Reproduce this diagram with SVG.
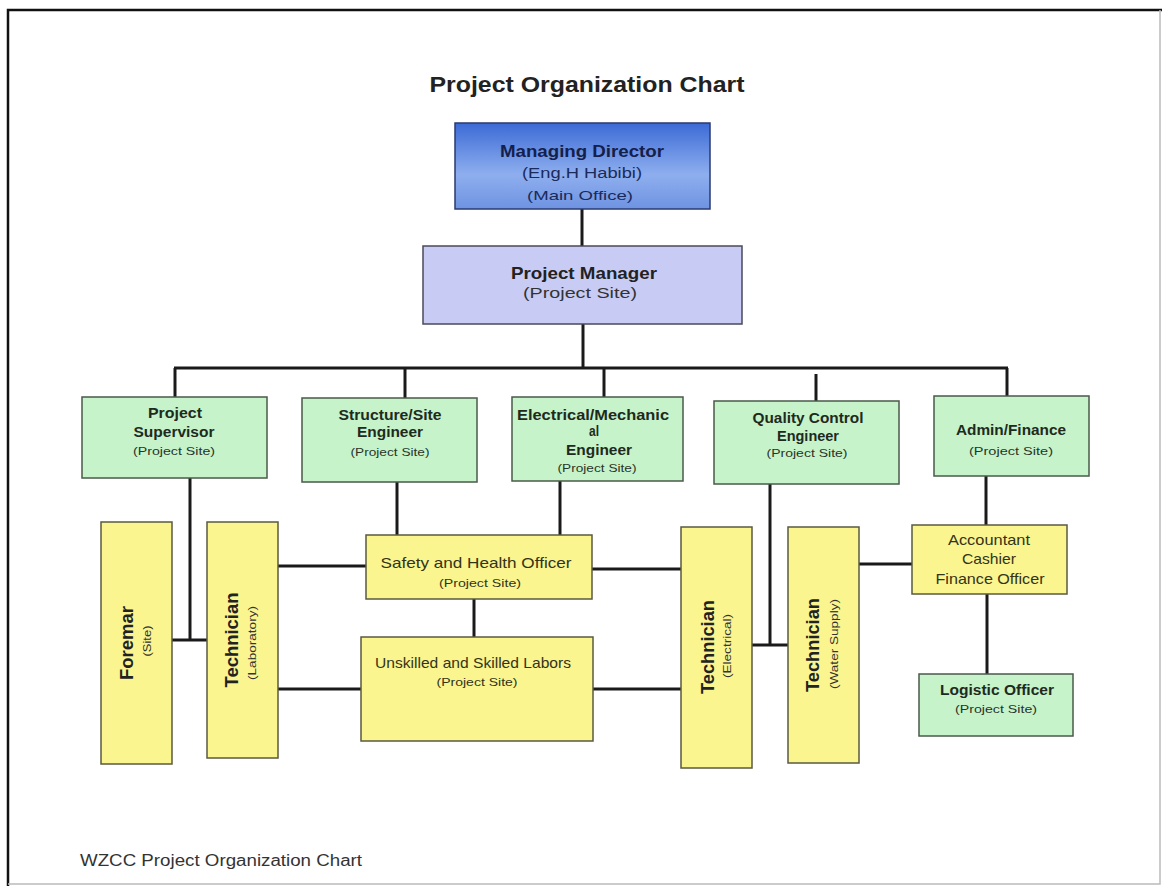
<svg xmlns="http://www.w3.org/2000/svg" width="1162" height="886" viewBox="0 0 1162 886">
<defs>
<linearGradient id="blue" x1="0" y1="0" x2="0" y2="1">
<stop offset="0" stop-color="#3c6bd6"/>
<stop offset="0.6" stop-color="#8eaeee"/>
<stop offset="1" stop-color="#6f93e2"/>
</linearGradient>
<style>
text{font-family:"Liberation Sans",Arial,sans-serif;text-anchor:middle}
.box{stroke-width:1.5}
.green{fill:#c6f3c9;stroke:#4a5a4a}
.yellow{fill:#faf58f;stroke:#5a5a40}
.b{font-weight:bold;font-size:14px;fill:#1e2a1e}
.s{font-size:11px;fill:#2a332a}
.y{font-size:15px;fill:#333318}
.ys{font-size:11px;fill:#333318}
.vb{font-weight:bold;font-size:17.5px;fill:#222}
.vs{font-size:10.5px;fill:#333}
.conn{stroke:#1a1a1a;stroke-width:3;fill:none}
</style>
</defs>
<rect x="0" y="0" width="1162" height="886" fill="#ffffff"/>
<path d="M8 886 V10 H1162" fill="none" stroke="#111" stroke-width="2.5"/>
<path d="M1160 10 V884 H8" fill="none" stroke="#bbb" stroke-width="1.5"/>
<text x="587" y="92" textLength="315" lengthAdjust="spacingAndGlyphs" style="font-size:22px;font-weight:bold;fill:#222">Project Organization Chart</text>

<g id="connectors" class="conn">
<line x1="582" y1="209" x2="582" y2="246"/>
<line x1="583" y1="324" x2="583" y2="368"/>
<line x1="174" y1="368" x2="1008" y2="368"/>
<line x1="175" y1="368" x2="175" y2="397"/>
<line x1="405" y1="368" x2="405" y2="398"/>
<line x1="604" y1="368" x2="604" y2="397"/>
<line x1="816" y1="374" x2="816" y2="401"/>
<line x1="1007" y1="368" x2="1007" y2="396"/>
<polyline points="190,478 190,640"/>
<line x1="172" y1="640" x2="207" y2="640"/>
<line x1="397" y1="482" x2="397" y2="535"/>
<line x1="560" y1="481" x2="560" y2="535"/>
<line x1="278" y1="566" x2="366" y2="566"/>
<line x1="592" y1="569" x2="681" y2="569"/>
<line x1="474" y1="599" x2="474" y2="637"/>
<line x1="278" y1="689" x2="361" y2="689"/>
<line x1="593" y1="689" x2="681" y2="689"/>
<line x1="770" y1="484" x2="770" y2="645"/>
<line x1="752" y1="645" x2="788" y2="645"/>
<line x1="859" y1="564" x2="912" y2="564"/>
<line x1="986" y1="476" x2="986" y2="525"/>
<line x1="987" y1="594" x2="987" y2="674"/>
</g>

<g id="managing-director">
<rect x="455" y="123" width="255" height="86" fill="url(#blue)" stroke="#2a3a70" stroke-width="1.5"/>
<text x="582" y="157" textLength="164" lengthAdjust="spacingAndGlyphs" style="font-weight:bold;font-size:16px;fill:#14204a">Managing Director</text>
<text x="582" y="178" textLength="120" lengthAdjust="spacingAndGlyphs" style="font-size:14px;fill:#1a2a5a">(Eng.H Habibi)</text>
<text x="580" y="200" textLength="106" lengthAdjust="spacingAndGlyphs" style="font-size:13px;fill:#1a2a5a">(Main Office)</text>
</g>

<g id="project-manager">
<rect x="423" y="246" width="319" height="78" fill="#c8ccf5" stroke="#4a4a5a" stroke-width="1.5"/>
<text x="584" y="279" textLength="146" lengthAdjust="spacingAndGlyphs" style="font-weight:bold;font-size:17px;fill:#222">Project Manager</text>
<text x="580" y="298" textLength="114" lengthAdjust="spacingAndGlyphs" style="font-size:14px;fill:#333">(Project Site)</text>
</g>

<g id="project-supervisor">
<rect class="box green" x="82" y="397" width="185" height="81"/>
<text class="b" x="175" y="418" textLength="54" lengthAdjust="spacingAndGlyphs">Project</text>
<text class="b" x="174" y="437" textLength="81" lengthAdjust="spacingAndGlyphs">Supervisor</text>
<text class="s" x="174" y="455" textLength="82" lengthAdjust="spacingAndGlyphs">(Project Site)</text>
</g>

<g id="structure-engineer">
<rect class="box green" x="302" y="398" width="175" height="84"/>
<text class="b" x="390" y="420" textLength="103" lengthAdjust="spacingAndGlyphs">Structure/Site</text>
<text class="b" x="390" y="437" textLength="66" lengthAdjust="spacingAndGlyphs">Engineer</text>
<text class="s" x="390" y="456" textLength="79" lengthAdjust="spacingAndGlyphs">(Project Site)</text>
</g>

<g id="electrical-engineer">
<rect class="box green" x="512" y="397" width="171" height="84"/>
<text class="b" x="593" y="420" textLength="152" lengthAdjust="spacingAndGlyphs">Electrical/Mechanic</text>
<text class="b" x="594" y="436" textLength="10" lengthAdjust="spacingAndGlyphs">al</text>
<text class="b" x="599" y="455" textLength="66" lengthAdjust="spacingAndGlyphs">Engineer</text>
<text class="s" x="597" y="472" textLength="79" lengthAdjust="spacingAndGlyphs">(Project Site)</text>
</g>

<g id="quality-engineer">
<rect class="box green" x="714" y="401" width="185" height="83"/>
<text class="b" x="808" y="423" textLength="111" lengthAdjust="spacingAndGlyphs">Quality Control</text>
<text class="b" x="808" y="441" textLength="62" lengthAdjust="spacingAndGlyphs">Engineer</text>
<text class="s" x="807" y="457" textLength="81" lengthAdjust="spacingAndGlyphs">(Project Site)</text>
</g>

<g id="admin-finance">
<rect class="box green" x="934" y="396" width="155" height="80"/>
<text class="b" x="1011" y="435" textLength="110" lengthAdjust="spacingAndGlyphs">Admin/Finance</text>
<text class="s" x="1011" y="455" textLength="84" lengthAdjust="spacingAndGlyphs">(Project Site)</text>
</g>

<g id="foreman">
<rect class="box yellow" x="101" y="522" width="71" height="242"/>
<text class="vb" transform="translate(133 643) rotate(-90)" textLength="74" lengthAdjust="spacingAndGlyphs">Foremar</text>
<text class="vs" transform="translate(151 641) rotate(-90)" textLength="31" lengthAdjust="spacingAndGlyphs">(Site)</text>
</g>

<g id="technician-lab">
<rect class="box yellow" x="207" y="522" width="71" height="236"/>
<text class="vb" transform="translate(238 640) rotate(-90)" textLength="95" lengthAdjust="spacingAndGlyphs">Technician</text>
<text class="vs" transform="translate(256 643) rotate(-90)" textLength="74" lengthAdjust="spacingAndGlyphs">(Laboratory)</text>
</g>

<g id="safety-officer">
<rect class="box yellow" x="366" y="535" width="226" height="64"/>
<text class="y" x="476" y="568" textLength="191" lengthAdjust="spacingAndGlyphs">Safety and Health Officer</text>
<text class="ys" x="480" y="587" textLength="82" lengthAdjust="spacingAndGlyphs">(Project Site)</text>
</g>

<g id="labors">
<rect class="box yellow" x="361" y="637" width="232" height="104"/>
<text class="y" x="473" y="668" textLength="196" lengthAdjust="spacingAndGlyphs">Unskilled and Skilled Labors</text>
<text class="ys" x="477" y="686" textLength="81" lengthAdjust="spacingAndGlyphs">(Project Site)</text>
</g>

<g id="technician-electrical">
<rect class="box yellow" x="681" y="527" width="71" height="241"/>
<text class="vb" transform="translate(714 647) rotate(-90)" textLength="94" lengthAdjust="spacingAndGlyphs">Technician</text>
<text class="vs" transform="translate(731 646) rotate(-90)" textLength="64" lengthAdjust="spacingAndGlyphs">(Electrical)</text>
</g>

<g id="technician-water">
<rect class="box yellow" x="788" y="527" width="71" height="236"/>
<text class="vb" transform="translate(819 645) rotate(-90)" textLength="94" lengthAdjust="spacingAndGlyphs">Technician</text>
<text class="vs" transform="translate(838 644) rotate(-90)" textLength="90" lengthAdjust="spacingAndGlyphs">(Water Supply)</text>
</g>

<g id="accountant">
<rect class="box yellow" x="912" y="525" width="155" height="69"/>
<text class="y" x="989" y="545" textLength="82" lengthAdjust="spacingAndGlyphs">Accountant</text>
<text class="y" x="989" y="564" textLength="54" lengthAdjust="spacingAndGlyphs">Cashier</text>
<text class="y" x="990" y="584" textLength="109" lengthAdjust="spacingAndGlyphs">Finance Officer</text>
</g>

<g id="logistic-officer">
<rect class="box green" x="919" y="674" width="154" height="62"/>
<text class="b" x="997" y="695" textLength="114" lengthAdjust="spacingAndGlyphs">Logistic Officer</text>
<text class="s" x="996" y="713" textLength="82" lengthAdjust="spacingAndGlyphs">(Project Site)</text>
</g>

<text x="80" y="866" textLength="282" lengthAdjust="spacingAndGlyphs" style="font-size:16px;fill:#333;text-anchor:start">WZCC Project Organization Chart</text>
</svg>
